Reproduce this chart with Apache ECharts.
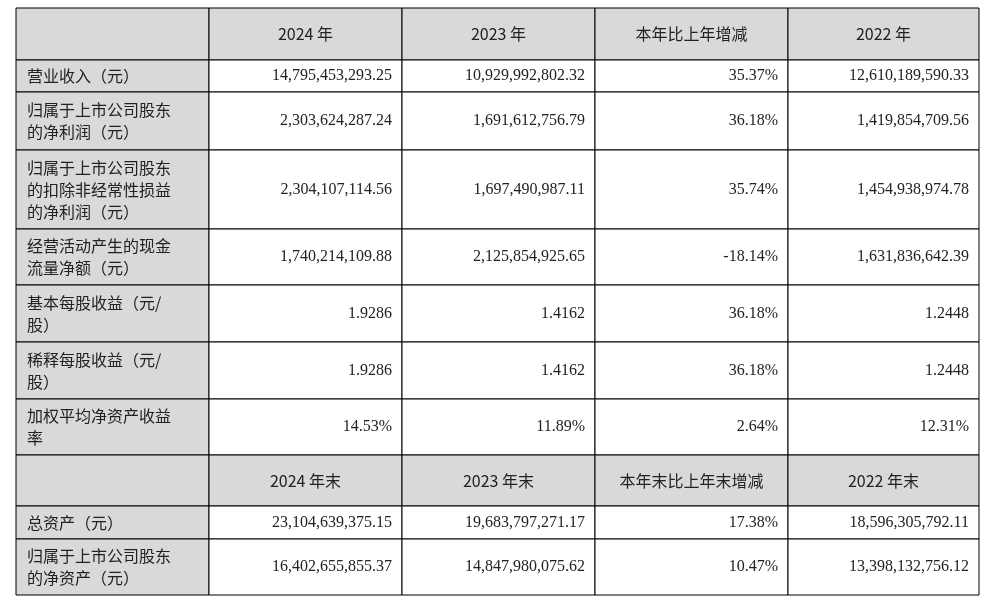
<!DOCTYPE html>
<html>
<head>
<meta charset="utf-8">
<script src="https://cdn.jsdelivr.net/npm/echarts@6/dist/echarts.min.js"></script>
<style>html,body{margin:0;background:#fff}#main{width:993px;height:606px}</style>
</head>
<body>
<div id="main"></div>
<script>
// 表头
var header1 = ['', '2024 年', '2023 年', '本年比上年增减', '2022 年'];
var header2 = ['', '2024 年末', '2023 年末', '本年末比上年末增减', '2022 年末'];
// 指标名称
var rowNames = [
    '营业收入（元）',
    '归属于上市公司股东\n的净利润（元）',
    '归属于上市公司股东\n的扣除非经常性损益\n的净利润（元）',
    '经营活动产生的现金\n流量净额（元）',
    '基本每股收益（元/\n股）',
    '稀释每股收益（元/\n股）',
    '加权平均净资产收益\n率'
];
var v2024 = ['14,795,453,293.25', '2,303,624,287.24', '2,304,107,114.56', '1,740,214,109.88', '1.9286', '1.9286', '14.53%'];
var v2023 = ['10,929,992,802.32', '1,691,612,756.79', '1,697,490,987.11', '2,125,854,925.65', '1.4162', '1.4162', '11.89%'];
var vChange = ['35.37%', '36.18%', '35.74%', '-18.14%', '36.18%', '36.18%', '2.64%'];
var v2022 = ['12,610,189,590.33', '1,419,854,709.56', '1,454,938,974.78', '1,631,836,642.39', '1.2448', '1.2448', '12.31%'];
// 资产部分
var assetNames = ['总资产（元）', '归属于上市公司股东\n的净资产（元）'];
var a2024 = ['23,104,639,375.15', '16,402,655,855.37'];
var a2023 = ['19,683,797,271.17', '14,847,980,075.62'];
var aChange = ['17.38%', '10.47%'];
var a2022 = ['18,596,305,792.11', '13,398,132,756.12'];

// 布局
var colX = [16, 209, 402, 595, 788, 979];
var rowY = [8, 60, 92, 150, 229, 285, 342, 399, 455, 506, 539, 595];

var rows = [{ cells: header1, head: true }];
rowNames.forEach(function (n, i) {
    rows.push({ cells: [n, v2024[i], v2023[i], vChange[i], v2022[i]] });
});
rows.push({ cells: header2, head: true });
assetNames.forEach(function (n, i) {
    rows.push({ cells: [n, a2024[i], a2023[i], aChange[i], a2022[i]] });
});

var cnFont = '"Noto Sans CJK SC", sans-serif';
var numFont = '"Liberation Serif", "Noto Sans CJK SC", serif';
var elements = [];
rows.forEach(function (row, r) {
    var y0 = rowY[r], y1 = rowY[r + 1];
    row.cells.forEach(function (txt, c) {
        var x0 = colX[c], x1 = colX[c + 1];
        var gray = row.head || c === 0;
        elements.push({
            type: 'rect',
            shape: { x: x0, y: y0, width: x1 - x0, height: y1 - y0 },
            style: { fill: gray ? '#d9d9d9' : '#fff', stroke: '#000', lineWidth: 1 }
        });
        if (!txt) return;
        var isLabel = c === 0;
        var align = row.head ? 'center' : (isLabel ? 'left' : 'right');
        var tx = row.head ? (x0 + x1) / 2 : (isLabel ? x0 + 11 : x1 - 10);
        elements.push({
            type: 'text',
            x: tx, y: (y0 + y1) / 2,
            style: {
                text: txt,
                align: align,
                verticalAlign: 'middle',
                fill: '#222',
                fontSize: isLabel ? 16 : 16,
                lineHeight: 22,
                fontFamily: (isLabel || row.head) ? cnFont : numFont
            }
        });
    });
});

var chart = echarts.init(document.getElementById('main'));
chart.setOption({
    backgroundColor: '#fff',
    graphic: { elements: elements }
});
</script>
</body>
</html>
